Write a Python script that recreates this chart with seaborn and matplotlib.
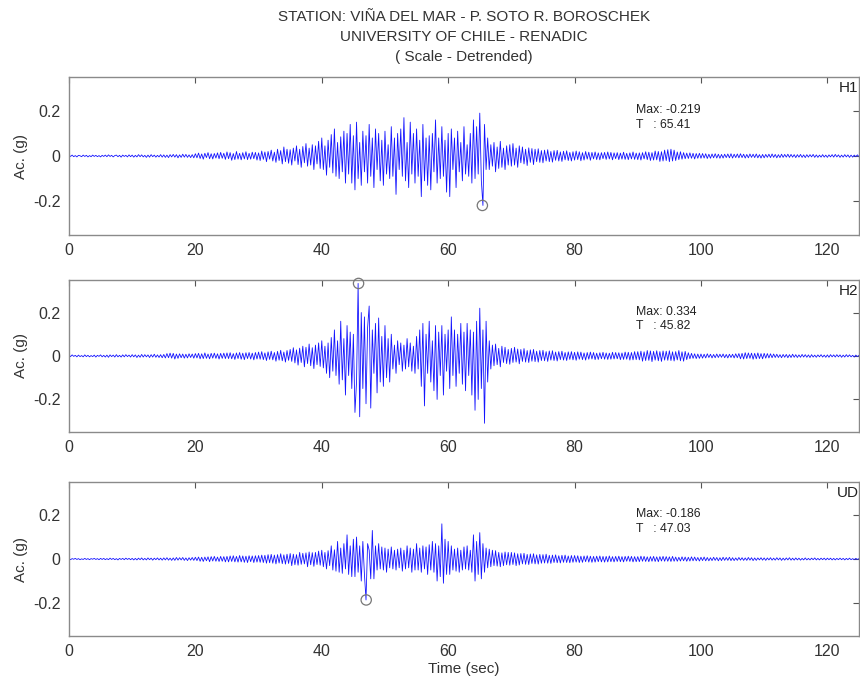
import numpy as np
import pandas as pd
import matplotlib
matplotlib.use("Agg")
import matplotlib.pyplot as plt
import seaborn as sns

# ---------------- data (0.25 s steps, g) ----------------
dt = 0.25
h1 = [
    0.003,-0.002,0.004,-0.003,0.002,-0.004,0.003,0.001,-0.003,0.004,-0.002,0.003,-0.004,0.002,-0.003,0.004,-0.002,0.003,-0.003,0.002,
    -0.004,0.003,-0.002,0.004,-0.003,0.005,-0.002,0.003,-0.004,0.002,0.004,-0.003,0.003,-0.005,0.004,-0.002,0.003,-0.004,0.005,-0.003,
    0.004,-0.005,0.003,-0.004,0.006,-0.003,0.005,-0.004,0.003,-0.006,0.004,-0.005,0.006,-0.003,0.004,-0.005,0.003,-0.004,0.006,-0.005,
    0.005,-0.006,0.004,-0.007,0.006,-0.004,0.007,-0.005,0.006,-0.008,0.005,-0.006,0.008,-0.005,0.007,-0.006,0.005,-0.007,0.006,-0.008,
    0.010,-0.008,0.013,-0.011,0.009,-0.014,0.012,-0.007,0.015,-0.012,0.010,-0.013,0.011,-0.009,0.014,-0.012,0.016,-0.010,0.012,-0.015,
    0.018,-0.012,0.015,-0.019,0.011,-0.016,0.020,-0.014,0.012,-0.017,0.015,-0.013,0.019,-0.016,0.012,-0.014,0.017,-0.012,0.016,-0.018,
    0.014,-0.020,0.022,-0.015,0.018,-0.025,0.020,-0.014,0.026,-0.022,0.017,-0.028,0.030,-0.020,0.024,-0.035,0.040,-0.025,0.030,-0.032,
    0.028,-0.040,0.035,-0.022,0.045,-0.038,0.030,-0.050,0.042,-0.030,0.055,-0.045,0.035,-0.040,0.050,-0.060,0.045,-0.035,0.065,-0.055,
    0.080,-0.060,0.045,-0.085,0.070,-0.050,0.095,-0.075,0.120,-0.090,0.060,-0.100,0.085,-0.070,0.110,-0.120,0.100,-0.080,0.140,-0.120,
    0.090,-0.150,0.150,-0.100,0.060,-0.130,0.110,-0.070,0.090,-0.120,0.140,-0.090,0.080,-0.140,0.120,-0.060,0.100,-0.110,0.070,-0.130,
    0.110,-0.080,0.050,-0.100,0.130,-0.090,0.080,-0.170,0.100,-0.060,0.120,-0.090,0.170,-0.110,0.060,-0.140,0.150,-0.080,0.100,-0.120,
    0.120,-0.090,0.070,-0.180,0.140,-0.110,0.080,-0.130,0.090,-0.150,0.100,-0.070,0.160,-0.120,0.080,-0.100,0.130,-0.090,0.070,-0.160,
    0.100,-0.180,0.120,-0.060,0.080,-0.140,0.110,-0.070,0.060,-0.110,0.130,-0.080,0.050,-0.090,0.100,-0.120,0.160,-0.100,0.130,-0.080,
    0.190,-0.110,-0.219,0.140,-0.060,0.080,-0.060,0.050,-0.045,0.060,-0.070,0.040,-0.055,0.065,-0.050,0.035,-0.060,0.045,-0.040,0.050,
    -0.045,0.055,-0.040,0.035,-0.050,0.045,-0.030,0.040,-0.035,0.030,-0.042,0.036,-0.028,0.033,-0.038,0.030,-0.025,0.032,-0.028,0.024,
    -0.030,0.026,-0.022,0.028,-0.025,0.020,-0.027,0.024,-0.019,0.025,-0.022,0.018,-0.024,0.021,-0.017,0.023,-0.020,0.016,-0.022,0.019,
    -0.018,0.022,-0.016,0.019,-0.021,0.015,-0.018,0.020,-0.014,0.017,-0.019,0.016,-0.013,0.018,-0.016,0.014,-0.017,0.015,-0.012,0.016,
    -0.015,0.018,-0.013,0.016,-0.017,0.014,-0.012,0.015,-0.016,0.013,-0.014,0.017,-0.015,0.012,-0.016,0.014,-0.013,0.018,-0.015,0.013,
    -0.016,0.014,-0.018,0.015,-0.013,0.019,-0.016,0.017,-0.020,0.015,-0.018,0.022,-0.017,0.020,-0.024,0.019,-0.022,0.026,-0.020,0.028,
    -0.025,0.030,-0.022,0.026,-0.020,0.018,-0.016,0.019,-0.014,0.015,-0.012,0.013,-0.011,0.014,-0.010,0.012,-0.013,0.011,-0.010,0.012,
    -0.010,0.011,-0.009,0.010,-0.011,0.008,-0.010,0.009,-0.008,0.010,-0.009,0.008,-0.010,0.007,-0.009,0.008,-0.007,0.009,-0.008,0.010,
    -0.009,0.008,-0.007,0.009,-0.008,0.010,-0.007,0.008,-0.009,0.007,-0.008,0.009,-0.006,0.008,-0.007,0.009,-0.008,0.006,-0.009,0.007,
    -0.008,0.007,-0.006,0.008,-0.007,0.009,-0.006,0.007,-0.008,0.006,-0.007,0.008,-0.006,0.007,-0.005,0.008,-0.006,0.007,-0.005,0.006,
    -0.007,0.006,-0.005,0.007,-0.006,0.005,-0.007,0.006,-0.005,0.006,-0.004,0.007,-0.006,0.005,-0.006,0.004,-0.005,0.006,-0.005,0.004,
    -0.006,0.005,-0.004,0.006,-0.005,0.007,-0.004,0.005,-0.006,0.004,-0.005,0.006,-0.004,0.005,-0.006,0.004,-0.005,0.004,-0.003,0.005,
    -0.003,
]
h2 = [
    0.004,-0.003,0.005,-0.002,0.003,-0.004,0.004,-0.003,0.002,-0.004,0.005,-0.003,0.003,-0.004,0.002,-0.003,0.004,-0.005,0.003,-0.002,
    0.005,-0.004,0.003,-0.005,0.004,-0.006,0.005,-0.003,0.004,-0.005,0.006,-0.004,0.003,-0.005,0.005,-0.004,0.006,-0.003,0.004,-0.005,
    0.006,-0.004,0.005,-0.007,0.004,-0.006,0.007,-0.005,0.006,-0.004,0.005,-0.007,0.006,-0.005,0.008,-0.006,0.005,-0.007,0.006,-0.008,
    0.007,-0.009,0.011,-0.008,0.013,-0.010,0.012,-0.014,0.009,-0.011,0.010,-0.008,0.009,-0.010,0.008,-0.009,0.010,-0.007,0.009,-0.010,
    0.011,-0.009,0.012,-0.013,0.010,-0.012,0.014,-0.011,0.009,-0.013,0.012,-0.010,0.013,-0.011,0.010,-0.014,0.012,-0.011,0.013,-0.012,
    0.014,-0.012,0.015,-0.013,0.011,-0.016,0.014,-0.012,0.016,-0.015,0.013,-0.017,0.015,-0.012,0.016,-0.014,0.013,-0.018,0.016,-0.014,
    0.018,-0.015,0.020,-0.017,0.014,-0.021,0.019,-0.016,0.022,-0.018,0.016,-0.024,0.021,-0.019,0.026,-0.022,0.018,-0.028,0.025,-0.020,
    0.030,-0.025,0.038,-0.032,0.028,-0.042,0.036,-0.030,0.045,-0.050,0.040,-0.035,0.055,-0.045,0.038,-0.058,0.050,-0.040,0.060,-0.048,
    0.070,-0.055,0.045,-0.080,0.060,-0.100,0.085,-0.070,0.120,-0.090,0.070,-0.130,0.160,-0.110,0.080,-0.180,0.140,-0.090,0.110,-0.150,
    0.100,-0.260,-0.120,0.334,-0.280,0.200,-0.150,0.180,-0.220,0.130,0.230,-0.240,0.120,-0.080,0.150,-0.170,0.175,-0.120,0.090,-0.140,
    0.140,-0.100,0.080,-0.120,0.100,-0.060,0.050,-0.080,0.070,-0.040,0.060,-0.070,0.050,-0.060,0.080,-0.050,0.060,-0.070,0.045,-0.080,
    0.090,-0.060,0.120,-0.140,0.150,-0.230,0.100,-0.080,0.160,-0.120,0.070,-0.160,0.140,-0.200,0.110,-0.090,0.140,-0.180,0.100,-0.070,
    0.120,-0.150,0.180,-0.090,0.120,-0.140,0.100,-0.080,0.150,-0.130,0.110,-0.160,0.150,-0.090,0.120,-0.180,0.110,-0.250,0.160,-0.200,
    0.220,-0.150,0.120,-0.310,0.160,-0.120,0.070,-0.060,0.050,-0.045,0.055,-0.040,0.035,-0.050,0.045,-0.030,0.040,-0.035,0.030,-0.038,
    0.035,-0.030,0.040,-0.028,0.032,-0.036,0.030,-0.025,0.034,-0.028,0.025,-0.030,0.028,-0.024,0.030,-0.026,0.022,-0.028,0.025,-0.021,
    0.026,-0.022,0.020,-0.025,0.023,-0.019,0.024,-0.021,0.018,-0.023,0.020,-0.017,0.022,-0.019,0.016,-0.021,0.019,-0.016,0.020,-0.018,
    0.017,-0.020,0.019,-0.015,0.018,-0.017,0.014,-0.019,0.016,-0.015,0.018,-0.014,0.016,-0.017,0.013,-0.016,0.015,-0.013,0.017,-0.015,
    0.014,-0.016,0.013,-0.015,0.017,-0.014,0.016,-0.013,0.015,-0.017,0.014,-0.016,0.018,-0.015,0.017,-0.019,0.016,-0.018,0.020,-0.017,
    0.020,-0.018,0.022,-0.024,0.019,-0.021,0.025,-0.020,0.023,-0.026,0.021,-0.019,0.024,-0.022,0.020,-0.025,0.023,-0.019,0.022,-0.020,
    0.024,-0.021,0.019,-0.023,0.020,-0.018,0.025,-0.022,0.019,-0.024,0.021,-0.017,0.015,-0.013,0.012,-0.011,0.010,-0.012,0.009,-0.011,
    0.009,-0.010,0.008,-0.009,0.010,-0.007,0.008,-0.009,0.007,-0.008,0.009,-0.007,0.008,-0.006,0.009,-0.008,0.007,-0.009,0.008,-0.007,
    0.008,-0.009,0.010,-0.008,0.011,-0.013,0.012,-0.014,0.015,-0.012,0.014,-0.011,0.013,-0.015,0.012,-0.013,0.014,-0.012,0.011,-0.013,
    0.012,-0.010,0.011,-0.009,0.010,-0.008,0.009,-0.007,0.008,-0.007,0.006,-0.008,0.007,-0.006,0.007,-0.008,0.006,-0.007,0.008,-0.006,
    0.006,-0.007,0.005,-0.006,0.007,-0.005,0.006,-0.006,0.005,-0.007,0.006,-0.005,0.004,-0.006,0.005,-0.004,0.006,-0.005,0.004,-0.006,
    0.005,-0.006,0.006,-0.004,0.005,-0.005,0.006,-0.004,0.005,-0.006,0.004,-0.005,0.006,-0.004,0.005,-0.004,0.003,-0.005,0.004,-0.003,
    0.003,
]
ud = [
    0.002,-0.003,0.002,-0.001,0.003,-0.002,0.002,-0.003,0.001,-0.002,0.003,-0.002,0.002,-0.003,0.002,-0.001,0.003,-0.002,0.002,-0.003,
    0.003,-0.002,0.003,-0.003,0.002,-0.003,0.004,-0.002,0.003,-0.003,0.002,-0.004,0.003,-0.002,0.003,-0.003,0.004,-0.002,0.003,-0.003,
    0.003,-0.004,0.003,-0.004,0.004,-0.003,0.005,-0.004,0.003,-0.004,0.005,-0.003,0.004,-0.005,0.004,-0.003,0.005,-0.004,0.004,-0.005,
    0.005,-0.004,0.006,-0.005,0.004,-0.006,0.005,-0.006,0.007,-0.005,0.006,-0.004,0.007,-0.006,0.005,-0.007,0.006,-0.005,0.007,-0.006,
    0.008,-0.007,0.009,-0.010,0.008,-0.011,0.009,-0.008,0.010,-0.012,0.011,-0.009,0.012,-0.010,0.009,-0.011,0.012,-0.010,0.011,-0.013,
    0.012,-0.013,0.014,-0.011,0.015,-0.013,0.012,-0.014,0.016,-0.013,0.014,-0.015,0.013,-0.016,0.015,-0.012,0.014,-0.016,0.015,-0.014,
    0.016,-0.015,0.018,-0.016,0.017,-0.019,0.020,-0.017,0.021,-0.019,0.018,-0.022,0.020,-0.018,0.024,-0.021,0.019,-0.023,0.022,-0.020,
    0.025,-0.030,0.022,-0.026,0.020,-0.028,0.030,-0.024,0.026,-0.022,0.028,-0.035,0.032,-0.026,0.029,-0.033,0.030,-0.025,0.036,-0.028,
    0.040,-0.035,0.030,-0.045,0.038,-0.030,0.060,-0.050,0.042,-0.055,0.080,-0.060,0.050,-0.065,0.070,-0.045,0.110,-0.070,0.060,-0.080,
    0.090,-0.080,0.100,-0.060,0.060,-0.100,0.080,-0.070,-0.186,0.070,0.040,-0.090,0.130,-0.090,0.060,-0.050,0.070,-0.045,0.055,-0.050,
    0.050,-0.060,0.045,-0.040,0.055,-0.045,0.040,-0.050,0.045,-0.040,0.050,-0.055,0.040,-0.045,0.060,-0.040,0.050,-0.060,0.045,-0.050,
    0.070,-0.050,0.050,-0.060,0.060,-0.045,0.055,-0.070,0.065,-0.050,0.080,-0.060,0.070,-0.100,0.060,-0.080,0.160,-0.110,0.090,-0.070,
    0.080,-0.070,0.060,-0.050,0.045,-0.055,0.050,-0.060,0.040,-0.050,0.055,-0.045,0.060,-0.050,0.040,-0.060,0.110,-0.100,0.080,-0.070,
    0.120,-0.090,0.070,-0.060,0.050,-0.040,0.045,-0.035,0.040,-0.030,0.038,-0.032,0.030,-0.035,0.028,-0.030,0.032,-0.026,0.030,-0.028,
    0.030,-0.025,0.028,-0.030,0.024,-0.027,0.025,-0.022,0.026,-0.024,0.021,-0.025,0.023,-0.020,0.024,-0.022,0.019,-0.023,0.021,-0.019,
    0.020,-0.018,0.022,-0.019,0.017,-0.020,0.018,-0.016,0.019,-0.017,0.015,-0.018,0.017,-0.015,0.018,-0.016,0.014,-0.017,0.016,-0.015,
    0.016,-0.014,0.015,-0.016,0.013,-0.015,0.014,-0.012,0.015,-0.014,0.013,-0.015,0.012,-0.014,0.013,-0.012,0.014,-0.013,0.012,-0.014,
    0.012,-0.013,0.014,-0.012,0.011,-0.013,0.012,-0.011,0.013,-0.012,0.011,-0.013,0.012,-0.010,0.013,-0.011,0.012,-0.013,0.011,-0.012,
    0.011,-0.012,0.013,-0.010,0.012,-0.011,0.010,-0.012,0.011,-0.010,0.012,-0.011,0.010,-0.012,0.011,-0.009,0.012,-0.010,0.011,-0.010,
    0.010,-0.011,0.012,-0.010,0.009,-0.010,0.008,-0.009,0.010,-0.008,0.009,-0.010,0.008,-0.009,0.010,-0.008,0.009,-0.008,0.007,-0.009,
    0.008,-0.007,0.009,-0.008,0.007,-0.008,0.006,-0.007,0.008,-0.006,0.007,-0.008,0.006,-0.007,0.008,-0.006,0.007,-0.006,0.008,-0.007,
    0.006,-0.007,0.005,-0.006,0.007,-0.005,0.006,-0.006,0.005,-0.006,0.007,-0.005,0.006,-0.007,0.005,-0.006,0.005,-0.004,0.006,-0.005,
    0.005,-0.006,0.005,-0.004,0.006,-0.005,0.004,-0.005,0.006,-0.004,0.005,-0.006,0.004,-0.005,0.005,-0.004,0.006,-0.005,0.004,-0.005,
    0.005,-0.004,0.004,-0.005,0.003,-0.004,0.005,-0.004,0.003,-0.004,0.004,-0.003,0.005,-0.004,0.003,-0.004,0.004,-0.003,0.004,-0.004,
    0.004,-0.003,0.004,-0.004,0.003,-0.004,0.003,-0.003,0.004,-0.003,0.003,-0.004,0.003,-0.003,0.004,-0.003,0.002,-0.003,0.003,-0.002,
    0.002,
]
channels = ["H1", "H2", "UD"]
peak_values = [-0.219, 0.334, -0.186]
peak_times = [65.41, 45.82, 47.03]
title_lines = ["STATION: VIÑA DEL MAR - P. SOTO R. BOROSCHEK",
               "UNIVERSITY OF CHILE - RENADIC",
               "( Scale - Detrended)"]
x_ticks = [0, 20, 40, 60, 80, 100, 120]
y_ticks = [-0.2, 0, 0.2]
y_tick_labels = ["-0.2", "0", "0.2"]

for name, vals in zip(channels, [h1, h2, ud]):
    if len(vals) != 501:
        raise SystemExit(f"{name} has {len(vals)} samples")

# ---------------- style ----------------
sns.set_style("white")
plt.rcParams["font.family"] = ["Liberation Sans", "DejaVu Sans"]
text_col = "#333333"
spine_col = "#8a8a8a"

frames = []
for name, vals in zip(channels, [h1, h2, ud]):
    frames.append(pd.DataFrame({"t": np.arange(len(vals)) * dt,
                                "acc": vals, "ch": name}))
df = pd.concat(frames, ignore_index=True)

fig = plt.figure(figsize=(8.6, 6.82), dpi=100)
boxes = [(0.0802, 0.6554, 0.9186, 0.2317),
         (0.0802, 0.3666, 0.9186, 0.2229),
         (0.0802, 0.0674, 0.9186, 0.2258)]

for i, name in enumerate(channels):
    ax = fig.add_axes(boxes[i])
    sub = df[df["ch"] == name]
    sns.lineplot(data=sub, x="t", y="acc", ax=ax, color="#1414ff",
                 linewidth=0.6, estimator=None)
    ax.scatter([peak_times[i]], [peak_values[i]], s=55, facecolors="none",
               edgecolors="#777777", linewidths=0.9, zorder=5, clip_on=False)
    ax.set_xlim(0, 125)
    ax.set_ylim(-0.35, 0.35)
    ax.set_xticks(x_ticks)
    ax.set_yticks(y_ticks)
    ax.set_yticklabels(y_tick_labels)
    ax.set_xticklabels([str(v) for v in x_ticks])
    ax.tick_params(direction="in", top=True, right=True, length=4,
                   width=0.8, color="#555555", labelsize=11.5,
                   labelcolor=text_col, pad=6)
    for s in ax.spines.values():
        s.set_color(spine_col)
        s.set_linewidth(1.0)
    ax.set_ylabel("Ac. (g)", fontsize=11, color=text_col, labelpad=4)
    ax.set_xlabel("Time (sec)" if i == 2 else "", fontsize=11, color=text_col,
                  labelpad=2)
    ax.text(123.3, 0.30, name, fontsize=11, color="#222222",
            ha="center", va="center")
    ax.text(89.7, 0.203, f"Max: {peak_values[i]}", fontsize=8.8,
            color="#222222", ha="left", va="center")
    ax.text(89.7, 0.137, f"T   : {peak_times[i]:.2f}", fontsize=8.8,
            color="#222222", ha="left", va="center")

for j, line in enumerate(title_lines):
    fig.text(0.5395, 1 - (17 + j * 20) / 682, line, fontsize=11,
             color="#333333", ha="center", va="center")

fig.savefig("out.png", dpi=100)
